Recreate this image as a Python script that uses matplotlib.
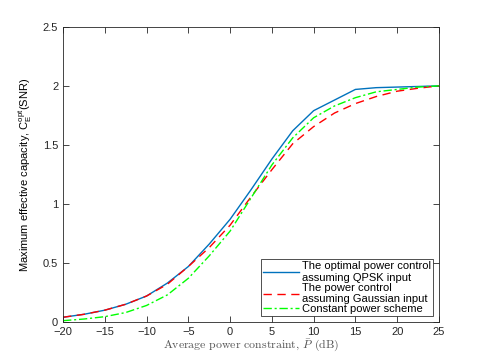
import matplotlib
matplotlib.use("Agg")
import matplotlib.pyplot as plt

# average power constraint (dB)
snr_db = [-20, -17.5, -15, -12.5, -10, -7.5, -5, -2.5, 0, 2.5, 5, 7.5, 10, 12.5, 15, 17.5, 20, 22.5, 25]

# optimal power control, QPSK input
cap_qpsk = [0.04, 0.065, 0.10, 0.15, 0.22, 0.33, 0.47, 0.66, 0.87, 1.12, 1.38, 1.62, 1.79, 1.88, 1.97, 1.985, 1.99, 1.995, 2.0]
# power control assuming Gaussian input
cap_gauss = [0.04, 0.065, 0.10, 0.15, 0.22, 0.32, 0.47, 0.63, 0.82, 1.06, 1.29, 1.51, 1.655, 1.77, 1.85, 1.91, 1.955, 1.98, 2.0]
# constant power scheme
cap_const = [0.011, 0.025, 0.045, 0.08, 0.14, 0.23, 0.37, 0.56, 0.77, 1.05, 1.33, 1.56, 1.73, 1.83, 1.90, 1.95, 1.97, 1.99, 2.0]

plt.rcParams['font.family'] = ['Liberation Sans', 'DejaVu Sans']
plt.rcParams['font.size'] = 8

fig = plt.figure(figsize=(4.85, 3.63), dpi=100)
ax = fig.add_axes([0.13, 0.113, 0.775, 0.813])

ax.plot(snr_db, cap_qpsk, color='#0072BD', lw=1.0, label='The optimal power control\nassuming QPSK input')
ax.plot(snr_db, cap_gauss, color='#FF0000', lw=1.0, ls=(0, (6, 4)), label='The power control\nassuming Gaussian input')
ax.plot(snr_db, cap_const, color='#00FF00', lw=1.0, ls=(0, (6, 2, 1.5, 2)), label='Constant power scheme')

ax.set_xlim(-20, 25)
ax.set_ylim(0, 2.5)
ax.set_xticks(range(-20, 26, 5))
ax.set_yticks([0, 0.5, 1, 1.5, 2, 2.5])
ax.set_yticklabels(['0', '0.5', '1', '1.5', '2', '2.5'])
ax.tick_params(direction='in', top=True, right=True, length=4, width=0.6, labelsize=8, colors='#262626')
for s in ax.spines.values():
    s.set_linewidth(0.6)
    s.set_color('#262626')

ax.set_xlabel(r'Average power constraint, $\bar{P}$ (dB)', family='cmr10', math_fontfamily='cm',
              fontsize=8.5, color='#555555', labelpad=1)
ax.set_ylabel(r'Maximum effective capacity, $\mathregular{C_E^{opt}}$(SNR)', fontsize=8, labelpad=6)

leg = ax.legend(loc='lower right', fontsize=8, frameon=True, fancybox=False, handlelength=3.2,
                borderpad=0.2, labelspacing=0.0, handletextpad=0.3, borderaxespad=0.5)
leg.get_frame().set_edgecolor('black')
leg.get_frame().set_linewidth(0.6)

fig.savefig('out.png', dpi=100)
